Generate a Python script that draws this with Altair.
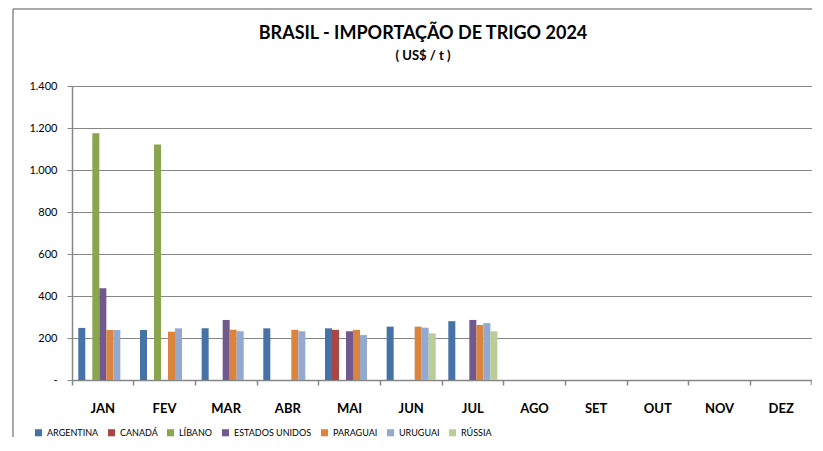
import altair as alt
import pandas as pd

months = ["JAN", "FEV", "MAR", "ABR", "MAI", "JUN", "JUL", "AGO", "SET", "OUT", "NOV", "DEZ"]
series = ["ARGENTINA", "CANADÁ", "LÍBANO", "ESTADOS UNIDOS", "PARAGUAI", "URUGUAI", "RÚSSIA"]
colors = ["#4572A7", "#AA4643", "#89A54E", "#71588F", "#DB843D", "#93A9CF", "#B9CD96"]

argentina = [248, 238, 246, 246, 246, 254, 280, None, None, None, None, None]
canada = [None, None, None, None, 239, None, None, None, None, None, None, None]
libano = [1175, 1122, None, None, None, None, None, None, None, None, None, None]
estados_unidos = [437, None, 286, None, 232, None, 286, None, None, None, None, None]
paraguai = [238, 230, 239, 239, 239, 254, 262, None, None, None, None, None]
uruguai = [238, 246, 232, 232, 214, 249, 271, None, None, None, None, None]
russia = [None, None, None, None, None, 222, 232, None, None, None, None, None]

values = [argentina, canada, libano, estados_unidos, paraguai, uruguai, russia]

title_text = "BRASIL - IMPORTAÇÃO DE TRIGO 2024"
subtitle_text = "( US$ / t )"

rows = []
for s, vals in zip(series, values):
    for m, v in zip(months, vals):
        if v is not None:
            rows.append({"mes": m, "pais": s, "valor": v})
df = pd.DataFrame(rows)

W, H = 740, 294
one = pd.DataFrame({"a": [0]})

bars = alt.Chart(df).mark_bar().encode(
    x=alt.X(
        "mes:N",
        sort=months,
        scale=alt.Scale(domain=months, paddingInner=0, paddingOuter=0),
        axis=alt.Axis(
            title=None,
            labelAngle=0,
            labelFont="Lato",
            labelFontSize=13,
            labelFontWeight="bold",
            labelColor="#000000",
            labelPadding=17,
            bandPosition=0,
            tickSize=5,
            tickColor="#868686",
            domainColor="#868686",
            domainWidth=1.5,
            tickWidth=1.5,
            grid=False,
        ),
    ),
    xOffset=alt.XOffset(
        "pais:N",
        sort=series,
        scale=alt.Scale(domain=series, paddingInner=0, paddingOuter=0.9),
    ),
    y=alt.Y(
        "valor:Q",
        scale=alt.Scale(domain=[0, 1400], nice=False),
        axis=alt.Axis(
            title=None,
            values=[0, 200, 400, 600, 800, 1000, 1200, 1400],
            labelExpr="datum.value == 0 ? '-' : replace(format(datum.value, ','), ',', '.')",
            labelFont="Lato",
            labelFontSize=11,
            labelColor="#000000",
            labelPadding=10,
            tickSize=5,
            tickColor="#868686",
            domainColor="#868686",
            domainWidth=1.5,
            gridColor="#868686",
            gridWidth=1.2,
        ),
    ),
    color=alt.Color(
        "pais:N",
        sort=series,
        scale=alt.Scale(domain=series, range=colors),
        legend=alt.Legend(
            title=None,
            orient="none",
            direction="horizontal",
            legendX=-38,
            legendY=342,
            symbolType="square",
            symbolSize=50,
            symbolStrokeWidth=0,
            labelFont="Lato",
            labelFontSize=9,
            labelColor="#000000",
            labelOffset=4,
            columnPadding=8,
            padding=0,
        ),
    ),
)

end_tick = alt.Chart(one).mark_tick(color="#868686", thickness=1.5, size=5, orient="vertical").encode(
    x=alt.value(W - 0.75), y=alt.value(H + 2.5)
)

frame_v = alt.Chart(one).mark_rule(color="#8c8c8c", strokeWidth=1.5).encode(
    x=alt.value(-59), y=alt.value(-77), y2=alt.value(380)
)
frame_h = alt.Chart(one).mark_rule(color="#8c8c8c", strokeWidth=1.5).encode(
    x=alt.value(-59), x2=alt.value(W), y=alt.value(-77)
)

title_mark = alt.Chart(pd.DataFrame({"t": [title_text]})).mark_text(
    font="Lato", fontSize=18, fontWeight="bold", color="#000000", align="center", baseline="alphabetic"
).encode(text="t:N", x=alt.value(351), y=alt.value(-47))

subtitle_mark = alt.Chart(pd.DataFrame({"t": [subtitle_text]})).mark_text(
    font="Lato", fontSize=13, fontWeight="bold", color="#000000", align="center", baseline="alphabetic"
).encode(text="t:N", x=alt.value(351), y=alt.value(-26))

chart = alt.layer(bars, end_tick, frame_v, frame_h, title_mark, subtitle_mark).properties(
    width=W,
    height=H,
    autosize=alt.AutoSizeParams(type="none"),
    padding={"left": 64, "top": 78, "right": 0, "bottom": 57},
).configure_view(strokeWidth=0).configure(background="white")

chart.save("out.html", embed_options={"renderer": "svg", "actions": False})
